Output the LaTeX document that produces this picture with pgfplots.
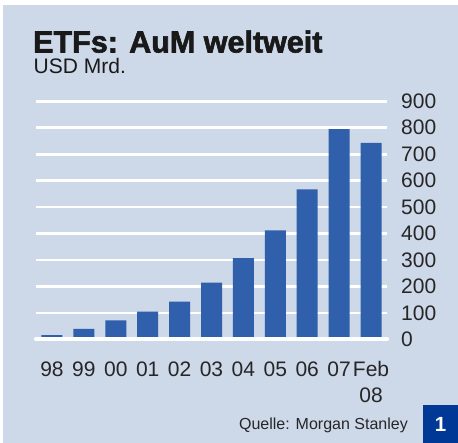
\documentclass[border=0pt]{standalone}
\usepackage{fontspec}
\setmainfont{Liberation Sans}
\newfontfamily\titlefont[FakeBold=2]{Liberation Sans Bold}
\usepackage{pgfplots}
\pgfplotsset{compat=1.18}
\definecolor{bgblue}{RGB}{205,216,233}
\definecolor{barblue}{RGB}{48,95,172}
\definecolor{boxblue}{RGB}{0,56,150}

\begin{document}
\begin{tikzpicture}[x=1pt,y=1pt]
\path[use as bounding box] (0,0) rectangle (458,443);
\fill[white] (0,0) rectangle (458,443);
\fill[bgblue] (3,0) rectangle (458,438);

\begin{axis}[
  at={(36pt,103.7pt)},
  anchor=south west,
  scale only axis,
  width=351pt,
  height=238pt,
  xmin=-0.5, xmax=10.5,
  ymin=0, ymax=900,
  clip=false,
  xtick={0,...,10},
  xticklabels={98,99,00,01,02,03,04,05,06,07,{\begin{tabular}[t]{@{}c@{}}Feb\\08\end{tabular}}},
  ytick={0,100,...,900},
  yticklabel pos=right,
  /pgf/number format/assume math mode=true,
  tick label style={font=\fontsize{21}{26}\selectfont, text=black!85},
  xticklabel style={anchor=base, inner sep=0pt, yshift=-37.4pt},
  yticklabel style={anchor=west, inner sep=0pt, xshift=14pt},
  major tick length=0pt,
  axis line style={draw=none},
  tick style={draw=none},
  ymajorgrids=true,
  grid style={white, line width=2.7pt},
]
\addplot[ybar, bar width=21pt, fill=barblue, draw=none] coordinates {
  (0,16) (1,39) (2,72) (3,105) (4,142) (5,214)
  (6,307) (7,412) (8,567) (9,795) (10,743)
};
\draw[white, line width=4.3pt, line cap=round] (axis cs:-0.5,0) -- (axis cs:10.5,0);
\end{axis}

\node[anchor=base west, inner sep=0pt, font=\titlefont\fontsize{30.5}{36}\selectfont, text=black!90] at (33,390.5) {ETFs: AuM weltweit};
\node[anchor=base west, inner sep=0pt, font=\fontsize{21}{25}\selectfont, text=black!90] at (33.5,369) {USD Mrd.};
\node[anchor=base east, inner sep=0pt, font=\fontsize{16}{19}\selectfont, text=black!85] at (408,13) {Quelle: Morgan Stanley};
\fill[boxblue] (423,0) rectangle (458,38);
\node[anchor=base, inner sep=0pt, font=\bfseries\fontsize{20.5}{24}\selectfont, text=white] at (440.5,11.3) {1};
\end{tikzpicture}
\end{document}
